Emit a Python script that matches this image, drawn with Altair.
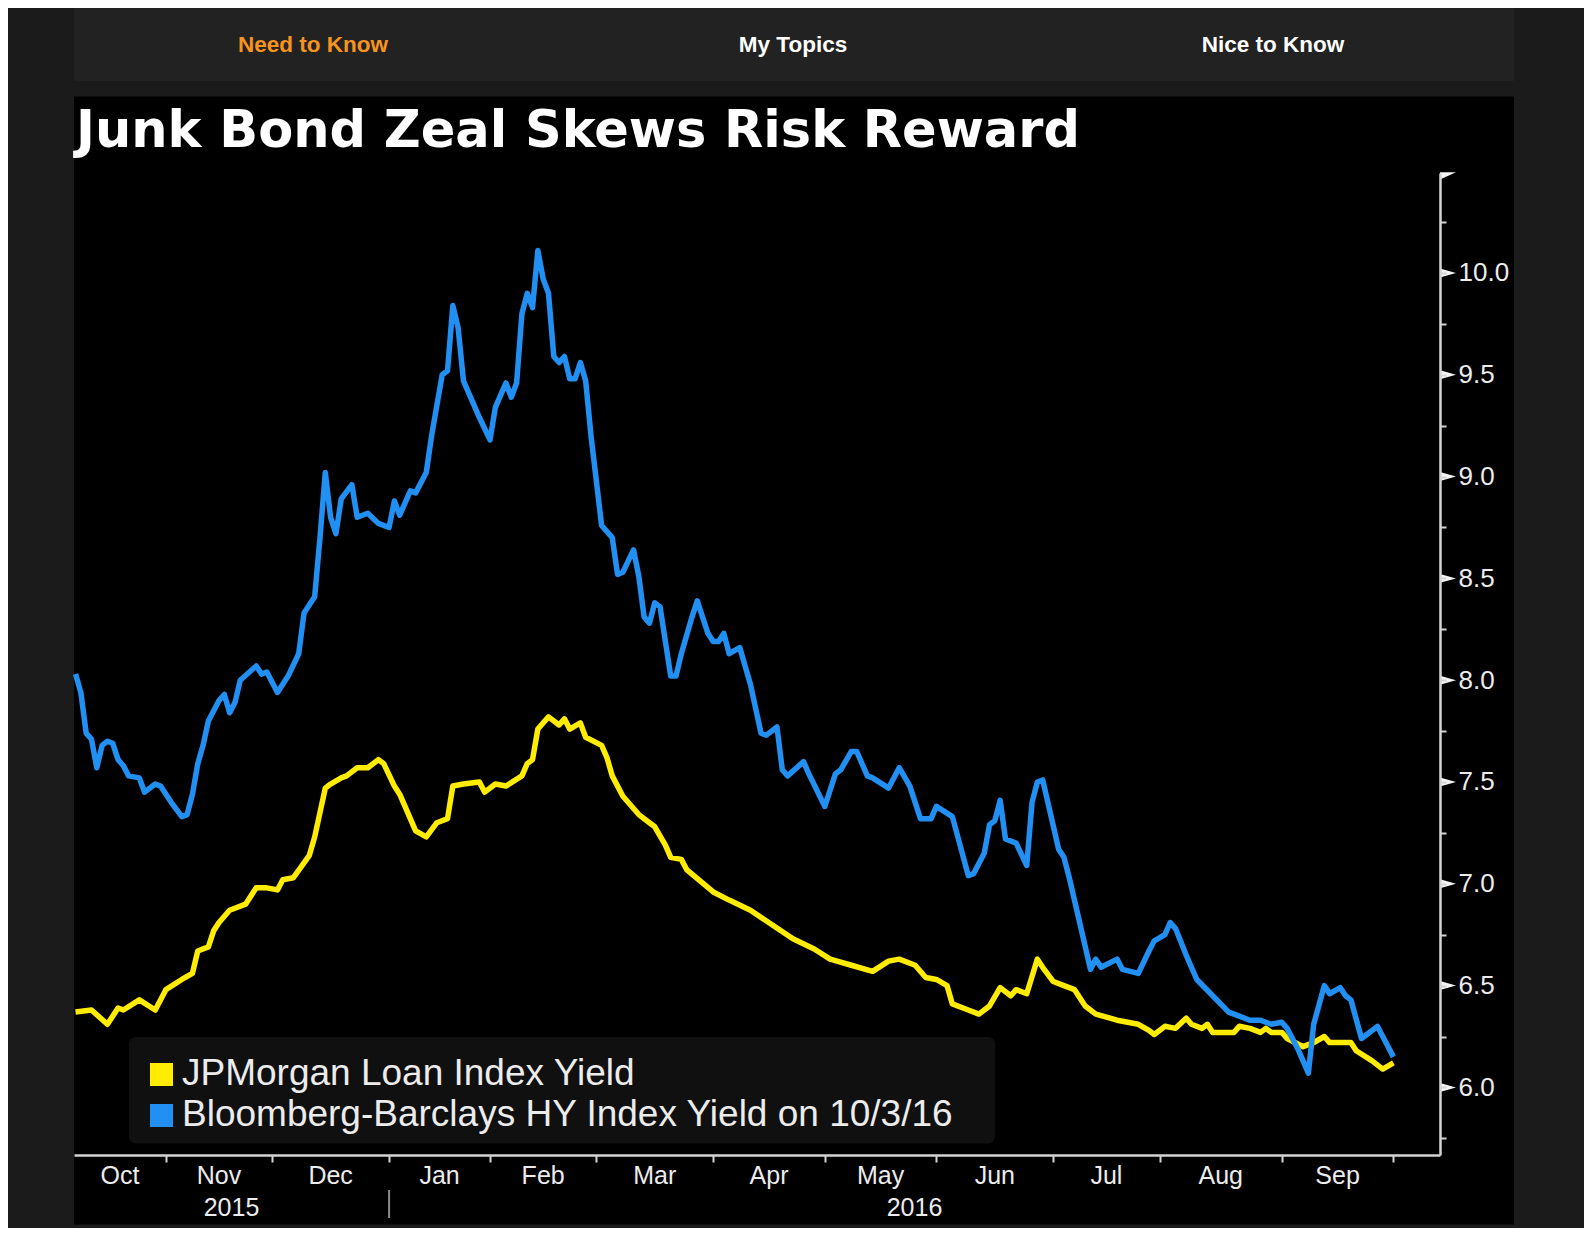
import altair as alt
import numpy as np
import pandas as pd

# ---------------- data ----------------
TITLE = "Junk Bond Zeal Skews Risk Reward"
NAV_ITEMS = ["Need to Know", "My Topics", "Nice to Know"]
SERIES = ["JPMorgan Loan Index Yield", "Bloomberg-Barclays HY Index Yield on 10/3/16"]

LOAN_DATES = [
    "2015-10-06", "2015-10-09", "2015-10-15", "2015-10-19", "2015-10-20", "2015-10-23", "2015-10-28",
    "2015-10-30", "2015-11-04", "2015-11-06", "2015-11-09", "2015-11-12", "2015-11-13", "2015-11-16",
    "2015-11-18", "2015-11-23", "2015-11-25", "2015-11-30", "2015-12-02", "2015-12-03", "2015-12-07",
    "2015-12-10", "2015-12-11", "2015-12-15", "2015-12-16", "2015-12-18", "2015-12-21", "2015-12-23",
    "2015-12-28", "2015-12-30", "2015-12-31", "2016-01-05", "2016-01-06", "2016-01-07", "2016-01-11",
    "2016-01-13", "2016-01-15", "2016-01-20", "2016-01-21", "2016-01-25", "2016-01-28", "2016-01-29",
    "2016-02-02", "2016-02-04", "2016-02-09", "2016-02-10", "2016-02-11", "2016-02-12", "2016-02-17",
    "2016-02-19", "2016-02-22", "2016-02-23", "2016-02-25", "2016-02-26", "2016-03-02", "2016-03-03",
    "2016-03-04", "2016-03-08", "2016-03-11", "2016-03-15", "2016-03-16", "2016-03-18", "2016-03-21",
    "2016-03-23", "2016-03-24", "2016-04-01", "2016-04-06", "2016-04-12", "2016-04-18", "2016-04-22",
    "2016-04-28", "2016-05-03", "2016-05-09", "2016-05-13", "2016-05-18", "2016-05-20", "2016-05-25",
    "2016-05-27", "2016-06-01", "2016-06-03", "2016-06-06", "2016-06-09", "2016-06-13", "2016-06-15",
    "2016-06-17", "2016-06-21", "2016-06-22", "2016-06-24", "2016-06-28", "2016-06-29", "2016-07-01",
    "2016-07-06", "2016-07-08", "2016-07-12", "2016-07-14", "2016-07-20", "2016-07-26", "2016-07-28",
    "2016-07-29", "2016-08-02", "2016-08-04", "2016-08-08", "2016-08-09", "2016-08-11", "2016-08-12",
    "2016-08-15", "2016-08-19", "2016-08-22", "2016-08-24", "2016-08-26", "2016-08-29", "2016-08-30",
    "2016-09-01", "2016-09-02", "2016-09-08", "2016-09-12", "2016-09-14", "2016-09-15", "2016-09-21",
    "2016-09-22", "2016-09-27", "2016-09-29", "2016-10-03",
]
LOAN_YIELDS = [
    6.37, 6.38, 6.31, 6.39, 6.38, 6.43, 6.38,
    6.48, 6.53, 6.56, 6.67, 6.69, 6.77, 6.81,
    6.87, 6.90, 6.98, 6.98, 6.97, 7.02, 7.03,
    7.14, 7.23, 7.47, 7.49, 7.52, 7.53, 7.57,
    7.57, 7.61, 7.59, 7.48, 7.44, 7.38, 7.26,
    7.23, 7.30, 7.32, 7.48, 7.49, 7.50, 7.45,
    7.49, 7.48, 7.53, 7.59, 7.61, 7.76, 7.82,
    7.78, 7.81, 7.76, 7.79, 7.72, 7.68, 7.62,
    7.53, 7.43, 7.34, 7.30, 7.28, 7.19, 7.13,
    7.12, 7.07, 6.96, 6.92, 6.87, 6.80, 6.73,
    6.68, 6.63, 6.60, 6.57, 6.62, 6.63, 6.60,
    6.54, 6.53, 6.50, 6.41, 6.38, 6.36, 6.40,
    6.49, 6.45, 6.48, 6.46, 6.63, 6.59, 6.52,
    6.50, 6.48, 6.40, 6.36, 6.33, 6.31, 6.28,
    6.26, 6.30, 6.29, 6.34, 6.31, 6.29, 6.31,
    6.27, 6.27, 6.30, 6.29, 6.27, 6.29, 6.27,
    6.27, 6.24, 6.20, 6.22, 6.25, 6.22, 6.22,
    6.18, 6.13, 6.09, 6.12,
]

HY_DATES = [
    "2015-10-06", "2015-10-07", "2015-10-08", "2015-10-09", "2015-10-13", "2015-10-14", "2015-10-15",
    "2015-10-16", "2015-10-19", "2015-10-20", "2015-10-21", "2015-10-23", "2015-10-26", "2015-10-28",
    "2015-10-29", "2015-11-02", "2015-11-04", "2015-11-05", "2015-11-06", "2015-11-09", "2015-11-10",
    "2015-11-12", "2015-11-16", "2015-11-17", "2015-11-18", "2015-11-19", "2015-11-20", "2015-11-25",
    "2015-11-27", "2015-11-30", "2015-12-02", "2015-12-04", "2015-12-08", "2015-12-09", "2015-12-11",
    "2015-12-14", "2015-12-15", "2015-12-16", "2015-12-17", "2015-12-18", "2015-12-22", "2015-12-23",
    "2015-12-28", "2015-12-30", "2016-01-04", "2016-01-05", "2016-01-06", "2016-01-08", "2016-01-11",
    "2016-01-13", "2016-01-14", "2016-01-19", "2016-01-20", "2016-01-21", "2016-01-22", "2016-01-25",
    "2016-01-26", "2016-01-28", "2016-02-01", "2016-02-02", "2016-02-04", "2016-02-05", "2016-02-08",
    "2016-02-09", "2016-02-10", "2016-02-11", "2016-02-12", "2016-02-16", "2016-02-17", "2016-02-18",
    "2016-02-19", "2016-02-22", "2016-02-23", "2016-02-24", "2016-02-25", "2016-02-26", "2016-02-29",
    "2016-03-02", "2016-03-04", "2016-03-07", "2016-03-08", "2016-03-10", "2016-03-11", "2016-03-14",
    "2016-03-15", "2016-03-16", "2016-03-17", "2016-03-21", "2016-03-22", "2016-03-23", "2016-03-28",
    "2016-03-29", "2016-03-31", "2016-04-01", "2016-04-04", "2016-04-05", "2016-04-06", "2016-04-08",
    "2016-04-11", "2016-04-12", "2016-04-14", "2016-04-15", "2016-04-19", "2016-04-20", "2016-04-21",
    "2016-04-26", "2016-04-27", "2016-05-02", "2016-05-04", "2016-05-05", "2016-05-09", "2016-05-10",
    "2016-05-12", "2016-05-13", "2016-05-18", "2016-05-20", "2016-05-24", "2016-05-26", "2016-05-31",
    "2016-06-01", "2016-06-06", "2016-06-09", "2016-06-10", "2016-06-14", "2016-06-15", "2016-06-16",
    "2016-06-17", "2016-06-20", "2016-06-22", "2016-06-24", "2016-06-27", "2016-06-28", "2016-06-29",
    "2016-07-05", "2016-07-06", "2016-07-07", "2016-07-13", "2016-07-14", "2016-07-15", "2016-07-20",
    "2016-07-21", "2016-07-26", "2016-07-28", "2016-07-29", "2016-08-02", "2016-08-03", "2016-08-04",
    "2016-08-08", "2016-08-10", "2016-08-15", "2016-08-18", "2016-08-22", "2016-08-24", "2016-08-26",
    "2016-08-30", "2016-09-01", "2016-09-02", "2016-09-07", "2016-09-09", "2016-09-12", "2016-09-14",
    "2016-09-15", "2016-09-19", "2016-09-20", "2016-09-21", "2016-09-23", "2016-09-26", "2016-09-28",
    "2016-09-29", "2016-10-03",
]
HY_YIELDS = [
    8.03, 7.94, 7.74, 7.71, 7.57, 7.68, 7.70,
    7.69, 7.61, 7.58, 7.53, 7.52, 7.45, 7.49,
    7.48, 7.40, 7.33, 7.34, 7.44, 7.59, 7.68,
    7.80, 7.90, 7.93, 7.84, 7.89, 8.00, 8.07,
    8.03, 8.04, 7.94, 8.02, 8.13, 8.33, 8.41,
    8.70, 9.02, 8.80, 8.72, 8.89, 8.96, 8.80,
    8.82, 8.77, 8.75, 8.88, 8.81, 8.93, 8.92,
    9.02, 9.20, 9.50, 9.52, 9.84, 9.73, 9.47,
    9.41, 9.29, 9.18, 9.34, 9.46, 9.39, 9.46,
    9.80, 9.90, 9.83, 10.11, 9.97, 9.90, 9.59,
    9.56, 9.59, 9.48, 9.48, 9.56, 9.47, 9.20,
    8.76, 8.70, 8.52, 8.53, 8.64, 8.51, 8.31,
    8.28, 8.38, 8.36, 8.02, 8.02, 8.13, 8.31,
    8.39, 8.23, 8.19, 8.19, 8.23, 8.13, 8.16,
    8.07, 7.98, 7.74, 7.73, 7.77, 7.56, 7.53,
    7.60, 7.54, 7.38, 7.54, 7.56, 7.65, 7.65,
    7.53, 7.52, 7.47, 7.57, 7.48, 7.32, 7.32,
    7.38, 7.33, 7.04, 7.05, 7.15, 7.29, 7.31,
    7.41, 7.22, 7.20, 7.09, 7.40, 7.50, 7.51,
    7.17, 7.13, 7.03, 6.58, 6.63, 6.59, 6.63,
    6.58, 6.56, 6.67, 6.72, 6.75, 6.81, 6.78,
    6.65, 6.53, 6.45, 6.37, 6.35, 6.33, 6.33,
    6.31, 6.32, 6.29, 6.19, 6.07, 6.31, 6.50,
    6.46, 6.49, 6.45, 6.43, 6.24, 6.26, 6.30,
    6.25, 6.15,
]

# the time axis counts US bond-market trading days
TRADING_ORIGIN = "2015-11-02"
HOLIDAYS = ["2015-10-12", "2015-11-11", "2015-11-26", "2015-12-25", "2016-01-01", "2016-01-18",
            "2016-02-15", "2016-03-25", "2016-05-30", "2016-07-04", "2016-09-05", "2016-10-10"]
X_DOMAIN = [-18.29, 238.77]

MONTH_STARTS = ["2015-10-01", "2015-11-01", "2015-12-01", "2016-01-01", "2016-02-01", "2016-03-01",
                "2016-04-01", "2016-05-01", "2016-06-01", "2016-07-01", "2016-08-01", "2016-09-01",
                "2016-10-01"]
MONTH_LABELS = ["Oct", "Nov", "Dec", "Jan", "Feb", "Mar", "Apr", "May", "Jun", "Jul", "Aug", "Sep"]
YEAR_LABELS = ["2015", "2016"]
YEAR_BREAK = "2016-01-01"
Y_TICKS = [5.75, 6.0, 6.25, 6.5, 6.75, 7.0, 7.25, 7.5, 7.75, 8.0, 8.25, 8.5, 8.75,
           9.0, 9.25, 9.5, 9.75, 10.0, 10.25]
Y_MAJOR = [6.0, 6.5, 7.0, 7.5, 8.0, 8.5, 9.0, 9.5, 10.0]
Y_DOMAIN = [5.668, 10.491]

# ---------------- styling ----------------
W, H = 1366, 982
PAGE_BG = "#1b1b1b"
NAV_BG = "#222222"
PANEL_BG = "#000000"
YELLOW = "#ffec00"
BLUE = "#2190f2"
AXIS_COLOR = "#d4d4d4"
TEXT_COLOR = "#ececec"
ORANGE = "#f7941d"
LABEL_FONT = "Liberation Sans, Arial, sans-serif"
TITLE_FONT = "DejaVu Sans, Verdana, sans-serif"


def tday(d):
    return int(np.busday_count(np.datetime64(TRADING_ORIGIN), np.datetime64(d), holidays=HOLIDAYS))


x_scale = alt.Scale(domain=X_DOMAIN, nice=False, zero=False)
y_scale = alt.Scale(domain=Y_DOMAIN, nice=False, zero=False)

month_idx = [tday(m) for m in MONTH_STARTS]
x_axis = alt.Axis(orient="bottom", values=month_idx[1:], labels=False, title=None, grid=False,
                  domainColor=AXIS_COLOR, domainWidth=2.5, tickColor=AXIS_COLOR, tickWidth=2,
                  tickSize=7, zindex=1)
y_axis = alt.Axis(orient="right", values=Y_TICKS, title=None, grid=False,
                  labelExpr="datum.value % 0.5 == 0 ? format(datum.value, '.1f') : ''",
                  domainColor=AXIS_COLOR, domainWidth=2.5, tickColor=AXIS_COLOR, tickWidth=2,
                  tickSize=6, labelPadding=12, labelFont=LABEL_FONT, labelFontSize=26,
                  labelColor=TEXT_COLOR, labelOverlap=False, labelFlush=False, zindex=1)


def X(field):
    return alt.X(field, type="quantitative", scale=x_scale, axis=x_axis)


def Y(field):
    return alt.Y(field, type="quantitative", scale=y_scale, axis=y_axis)


one = pd.DataFrame({"k": [0]})


def rect(xa, xb, ya, yb, color, radius=0):
    return alt.Chart(one).mark_rect(color=color, cornerRadius=radius).encode(
        x=alt.value(xa), x2=alt.value(xb), y=alt.value(ya), y2=alt.value(yb))


def label(text, x, y, size, color, font, weight="normal", align="left"):
    return alt.Chart(one).mark_text(
        text=text, align=align, baseline="alphabetic", fontSize=size, font=font,
        fontWeight=weight, color=color).encode(x=alt.value(x), y=alt.value(y))


layers = []
# page furniture
layers.append(rect(0, 1440, -173, -92, NAV_BG))
layers.append(rect(0, 1440, -76.5, 1051.5, PANEL_BG))
nav_x = [239, 719, 1199]
for i, item in enumerate(NAV_ITEMS):
    layers.append(label(item, nav_x[i], -121, 22.5, ORANGE if i == 0 else "#ffffff", LABEL_FONT,
                        weight="bold", align="center"))
layers.append(label(TITLE, 2, -26, 51, "#ffffff", TITLE_FONT, weight="bold"))

# legend box
layers.append(rect(55, 921, 864, 970.5, "#101010", radius=7))
layers.append(rect(76, 99, 890, 913, YELLOW))
layers.append(rect(76, 99, 931, 954, BLUE))
layers.append(label(SERIES[0], 108, 912, 37, TEXT_COLOR, LABEL_FONT))
layers.append(label(SERIES[1], 108, 953, 37, TEXT_COLOR, LABEL_FONT))

# lines (trading-day position computed from each date)
loan = pd.DataFrame({"date": LOAN_DATES, "t": [tday(d) for d in LOAN_DATES], "value": LOAN_YIELDS})
hy = pd.DataFrame({"date": HY_DATES, "t": [tday(d) for d in HY_DATES], "value": HY_YIELDS})

layers.append(alt.Chart(loan).mark_line(color=YELLOW, strokeWidth=5.5, strokeJoin="round").encode(
    x=X("t"), y=Y("value")))
layers.append(alt.Chart(hy).mark_line(color=BLUE, strokeWidth=5.5, strokeJoin="round").encode(
    x=X("t"), y=Y("value")))

# triangle major ticks on the y axis
TRI = "M0,-0.28L1,0L0,0.28Z"
FLAG = "M0,-0.05L1,-0.05L0,0.4Z"
layers.append(alt.Chart(pd.DataFrame({"v": Y_MAJOR})).mark_point(
    shape=TRI, size=1024, filled=True, color="#f4f4f4", opacity=1, strokeWidth=0).encode(
    x=alt.value(W), y=Y("v")))
layers.append(alt.Chart(one).mark_point(
    shape=FLAG, size=1024, filled=True, color="#f4f4f4", opacity=1, strokeWidth=0).encode(
    x=alt.value(W), y=alt.value(0)))

# month and year labels, centred on the visible part of each period
lo, hi = X_DOMAIN
mids = []
for a, b in zip(month_idx[:-1], month_idx[1:]):
    a2, b2 = max(a, lo), min(b, hi)
    mids.append((a2 + b2) / 2)
months = pd.DataFrame({"t": mids, "label": MONTH_LABELS})
brk = tday(YEAR_BREAK)
years = pd.DataFrame({"t": [(lo + brk) / 2, (brk + hi) / 2], "label": YEAR_LABELS})

layers.append(alt.Chart(months).mark_text(
    align="center", baseline="alphabetic", fontSize=25, font=LABEL_FONT, color=TEXT_COLOR).encode(
    x=X("t"), y=alt.value(1011), text="label:N"))
layers.append(alt.Chart(years).mark_text(
    align="center", baseline="alphabetic", fontSize=25, font=LABEL_FONT, color=TEXT_COLOR).encode(
    x=X("t"), y=alt.value(1043), text="label:N"))
layers.append(alt.Chart(pd.DataFrame({"t": [brk]})).mark_rule(color="#8a8a8a", strokeWidth=2).encode(
    x=X("t"), y=alt.value(1017), y2=alt.value(1045)))

chart = alt.layer(*layers).properties(
    width=W, height=H,
    padding={"left": 66, "top": 165, "right": 144, "bottom": 73},
    autosize=alt.AutoSizeParams(type="none"),
    background=PAGE_BG,
).configure_view(stroke=None)

chart.save("out.html", embed_options={"renderer": "svg", "actions": False})
